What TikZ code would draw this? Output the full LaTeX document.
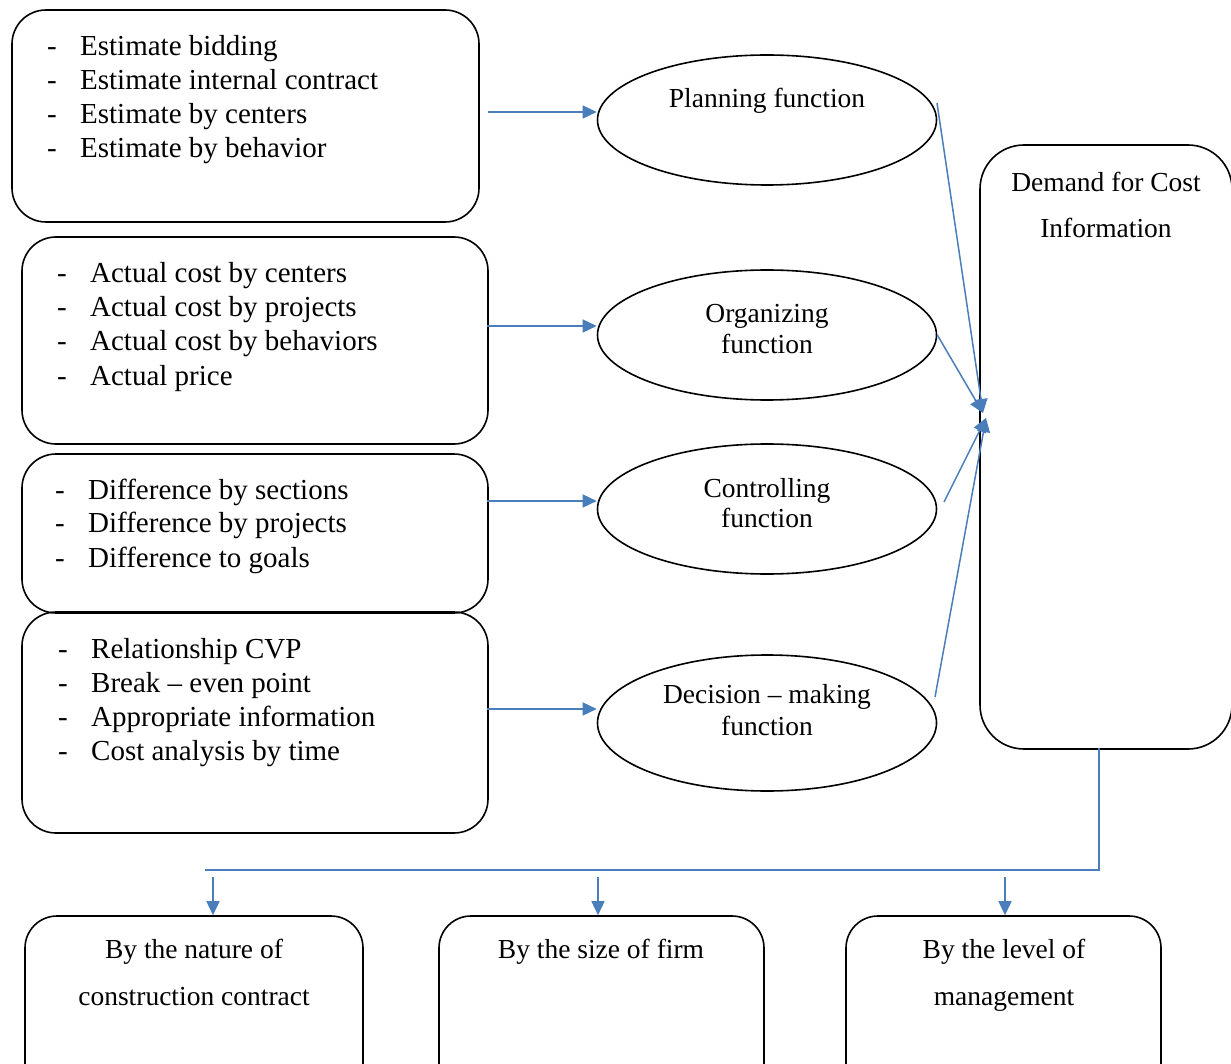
\documentclass[tikz,border=0pt]{standalone}
\usepackage{fontspec}
\setmainfont{Liberation Serif}
\usetikzlibrary{arrows.meta,shapes.geometric,calc}
\definecolor{arrowblue}{RGB}{74,126,187}
\begin{document}
\begin{tikzpicture}[x=1pt,y=-1pt,
  box/.style={draw,line width=1.6pt,rounded corners=34pt,inner sep=0pt},
  fn/.style={draw,ellipse,line width=1.6pt,minimum width=339pt,minimum height=130pt,inner sep=0pt},
  arr/.style={draw=arrowblue,line width=1.5pt,-{Triangle[length=14pt,width=13pt]}},
  link/.style={draw=arrowblue,line width=1.5pt},
  item/.style={anchor=base west,inner sep=0pt,font=\fontsize{29}{34}\selectfont},
  lbl/.style={anchor=base,inner sep=0pt,font=\fontsize{27.5}{33}\selectfont}]
\useasboundingbox (0,0) rectangle (1231,1064);
\clip (0,0) rectangle (1231,1064);

% left boxes
\node[box,minimum width=467pt,minimum height=212pt] (b1) at (245.5,116) {};
\node[box,minimum width=466pt,minimum height=207pt] (b2) at (255,340.5) {};
\node[box,minimum width=466pt,minimum height=159pt] (b3) at (255,533.5) {};
\node[box,minimum width=466pt,minimum height=221pt] (b4) at (255,722.5) {};

\newcommand{\itm}[1]{\makebox[33pt][l]{-}#1}
\node[item] (t11) at (47,56) {\itm{Estimate bidding}};
\node[item] (t12) at (47,90) {\itm{Estimate internal contract}};
\node[item] (t13) at (47,124) {\itm{Estimate by centers}};
\node[item] (t14) at (47,158) {\itm{Estimate by behavior}};

\node[item] (t21) at (57,283) {\itm{Actual cost by centers}};
\node[item] (t22) at (57,317) {\itm{Actual cost by projects}};
\node[item] (t23) at (57,351) {\itm{Actual cost by behaviors}};
\node[item] (t24) at (57,385) {\itm{Actual price}};

\node[item] (t31) at (55,499) {\itm{Difference by sections}};
\node[item] (t32) at (55,532) {\itm{Difference by projects}};
\node[item] (t33) at (55,567) {\itm{Difference to goals}};

\node[item] (t41) at (58,658) {\itm{Relationship CVP}};
\node[item] (t42) at (58,692) {\itm{Break -- even point}};
\node[item] (t43) at (58,726) {\itm{Appropriate information}};
\node[item] (t44) at (58,760) {\itm{Cost analysis by time}};

% ellipses
\node[fn] (e1) at (767,120) {};
\node[fn] (e2) at (767,335) {};
\node[fn] (e3) at (767,509) {};
\node[fn,minimum height=136pt] (e4) at (767,723) {};

\node[lbl] (l1) at (767,108) {Planning function};
\node[lbl] (l2a) at (767,323) {Organizing};
\node[lbl] (l2b) at (767,354) {function};
\node[lbl] (l3a) at (767,497) {Controlling};
\node[lbl] (l3b) at (767,527) {function};
\node[lbl] (l4a) at (767,703) {Decision -- making};
\node[lbl] (l4b) at (767,735) {function};

% right box
\node[box,rounded corners=44pt,minimum width=252pt,minimum height=604pt] (rb) at (1106,447) {};
\node[lbl] (r1) at (1106,192) {Demand for Cost};
\node[lbl] (r2) at (1106,238) {Information};

% bottom boxes
\node[box,rounded corners=32pt,minimum width=338pt,minimum height=190pt] (c1) at (194,1011) {};
\node[box,rounded corners=32pt,minimum width=325pt,minimum height=190pt] (c2) at (601.5,1011) {};
\node[box,rounded corners=32pt,minimum width=315pt,minimum height=190pt] (c3) at (1003.5,1011) {};
\node[lbl] (s1a) at (194,958) {By the nature of};
\node[lbl] (s1b) at (194,1005) {construction contract};
\node[lbl] (s2) at (601,958) {By the size of firm};
\node[lbl] (s3a) at (1004,958) {By the level of};
\node[lbl] (s3b) at (1004,1005) {management};

% horizontal arrows into ellipses
\coordinate (y1) at (0,112);
\coordinate (y2) at (0,326);
\coordinate (y3) at (0,501);
\coordinate (y4) at (0,709);
\draw[arr] ([xshift=8pt]b1.east |- y1) -- (e1.west |- y1);
\draw[arr] ([xshift=-2pt]b2.east |- y2) -- (e2.west |- y2);
\draw[arr] ([xshift=-2pt]b3.east |- y3) -- (e3.west |- y3);
\draw[arr] ([xshift=-2pt]b4.east |- y4) -- (e4.west |- y4);

% arrows into demand box
\coordinate (hubA) at (983,413);
\coordinate (hubB) at (986,418);
\coordinate (s1) at (937,103);
\coordinate (s3) at (944,502);
\coordinate (s4) at (935,697);
\draw[arr] (s1) -- (hubA);
\draw[arr] (e2.east) -- (hubA);
\draw[arr] (s3) -- (hubB);
\draw[arr] (s4) -- (hubB);

% distribution to bottom boxes
\coordinate (corner) at (1099,870);
\coordinate (leftend) at (205,870);
\coordinate (d1) at (213,877);
\coordinate (d2) at (598,877);
\coordinate (d3) at (1005,877);
\draw[link] ([yshift=2pt]rb.south -| corner) -- (corner) -- (leftend);
\draw[arr] (d1) -- (d1 |- c1.north);
\draw[arr] (d2) -- (d2 |- c2.north);
\draw[arr] (d3) -- (d3 |- c3.north);
\end{tikzpicture}
\end{document}
